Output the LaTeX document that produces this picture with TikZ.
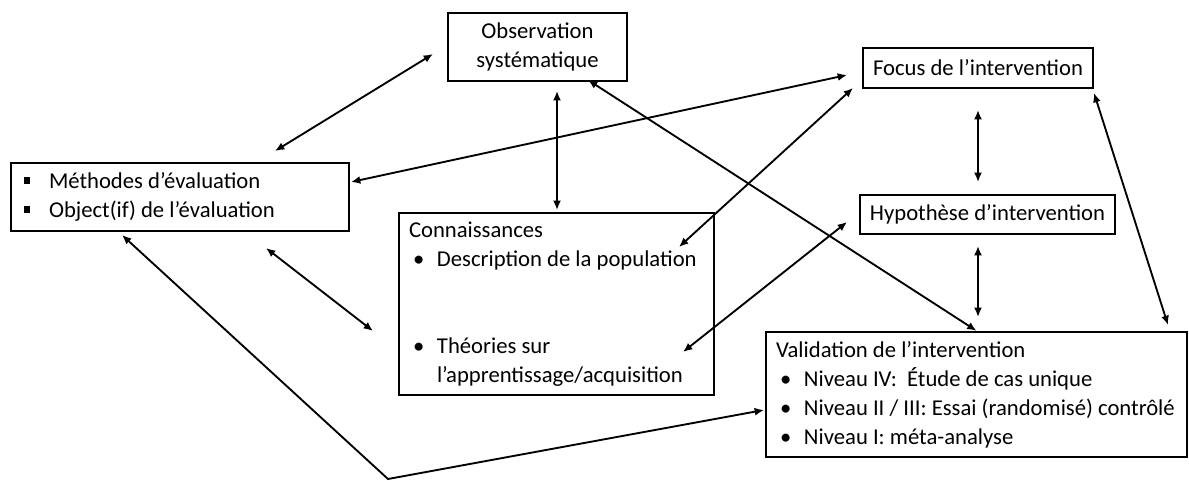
\documentclass[tikz,border=0pt]{standalone}
\usepackage{fontspec}
\setmainfont{Carlito}
\usetikzlibrary{arrows.meta, positioning}
\tikzset{
	% boxes
	box/.style={
		draw,
		line width=1.8pt,
		inner xsep=7.5pt,
		inner ysep=0pt,
		font=\fontsize{17}{21.75}\selectfont
	}, %
	% double arrows
	link/.style={
		line width=1.4pt,
		{Latex[length=7pt,width=6pt]}-{Latex[length=7pt,width=6pt]}
	} %
}
\newcommand{\itm}{\makebox[21pt][l]{\hspace{3pt}\textbullet}}
\newcommand{\sqitm}{\makebox[21pt][l]{\hspace{2pt}\rule[3.5pt]{5pt}{5pt}}}

\begin{document}
\begin{tikzpicture}[x=0.75pt, y=-0.75pt]
	\useasboundingbox (0,0) rectangle (1189,481);
	
	%% boites
	\node [box, align=center, minimum width=134.25pt, minimum height=51pt] (obs) at (537.5,47)
	{Observation\\syst\'ematique};
	\node [box, align=center, minimum width=172.5pt, minimum height=30pt] (focus) at (978,68)
	{Focus de l’intervention};
	\node [box, align=center, minimum width=191.25pt, minimum height=29.25pt] (hyp) at (987.5,214.5)
	{Hypothèse d’intervention};
	\node [box, align=flush left, text width=238.5pt, minimum height=51pt] (meth) at (180,197)
	{\sqitm Méthodes d’évaluation\\
	 \sqitm Object(if) de l’évaluation};
	\node [box, align=flush left, text width=221.25pt, minimum height=136.5pt] (conn) at (556.5,304)
	{Connaissances\\
	 \itm \mbox{Description de la population}\\
	 ~\\
	 ~\\
	 \itm Théories sur\\
	 \hspace*{21pt}\mbox{l’apprentissage/acquisition}};
	\node [box, align=flush left, text width=300.75pt, minimum height=93.75pt] (valid) at (976.5,394.5)
	{Validation de l’intervention\\
	 \itm Niveau IV:\ \ Étude de cas unique\\
	 \itm \mbox{Niveau II / III: Essai (randomisé) contrôlé}\\
	 \itm Niveau I: méta-analyse};
	
	%% extremites libres
	\coordinate (obsA) at (433,54);
	\coordinate (methA) at (275,151);
	\coordinate (methB) at (351,182);
	\coordinate (focusA) at (847,75);
	\coordinate (obsB) at (557,91);
	\coordinate (connA) at (557,210);
	\coordinate (obsC) at (588,80);
	\coordinate (focusB) at (853,88);
	\coordinate (connB) at (679,247);
	\coordinate (focusC) at (978,110);
	\coordinate (hypA) at (978,182);
	\coordinate (hypB) at (978,246);
	\coordinate (validA) at (978,317);
	\coordinate (focusD) at (1094,93);
	\coordinate (validB) at (1168,325);
	\coordinate (hypC) at (847,222);
	\coordinate (connC) at (683,352);
	\coordinate (methC) at (266,248);
	\coordinate (connD) at (373,331);
	\coordinate (methD) at (122,235);
	\coordinate (bend) at (388,479);
	\coordinate (validC) at (764,410);
	
	%% fleches
	\draw [link] (obsA) -- (methA);
	\draw [link] (methB) -- (focusA);
	\draw [link] (obsB) -- (connA);
	\draw [link] (obsC) -- (valid.north);
	\draw [link] (focusB) -- (connB);
	\draw [link] (focusC) -- (hypA);
	\draw [link] (hypB) -- (validA);
	\draw [link] (focusD) -- (validB);
	\draw [link] (hypC) -- (connC);
	\draw [link] (methC) -- (connD);
	\draw [link] (methD) -- (bend) -- (validC);
\end{tikzpicture}
\end{document}
